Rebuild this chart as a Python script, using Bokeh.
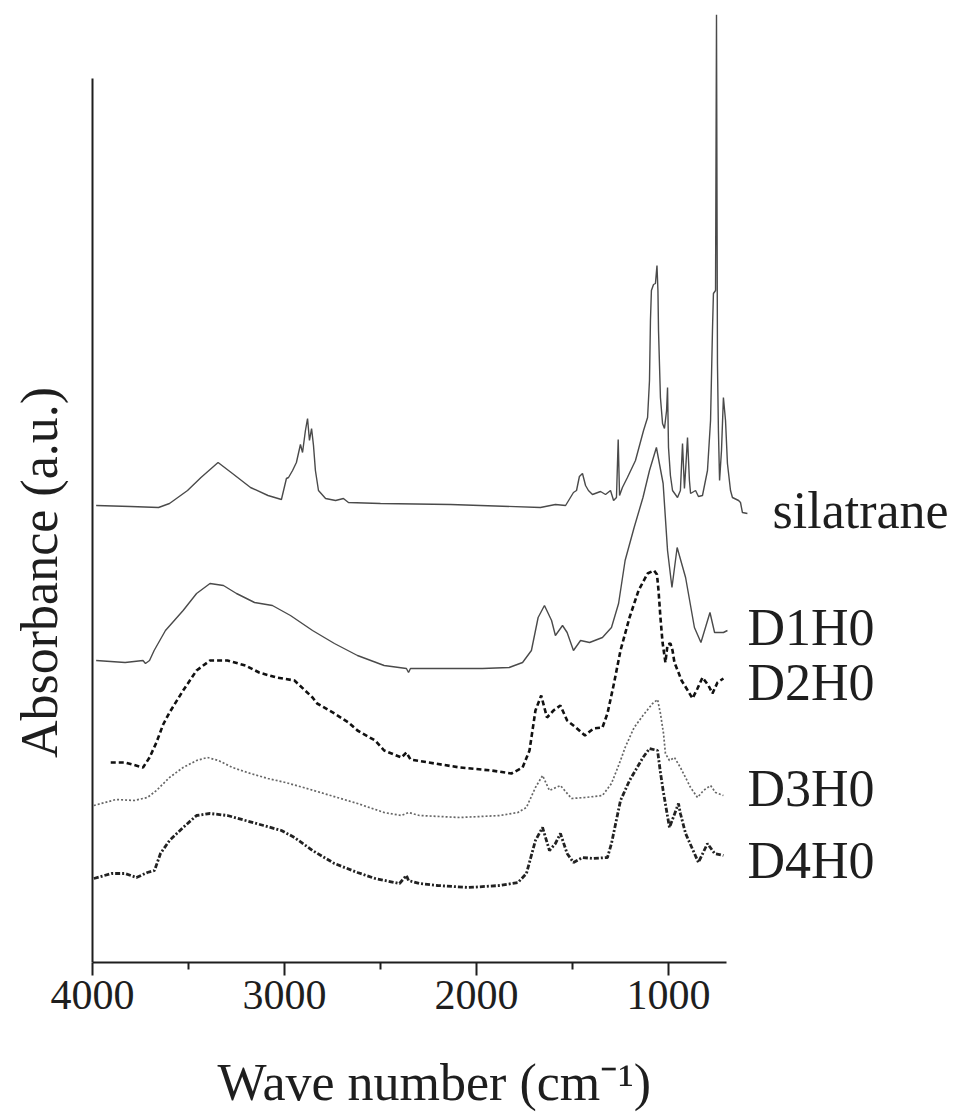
import math
from bokeh.plotting import figure
from bokeh.models import Range1d, FixedTicker, Label, Title
from bokeh.embed import file_html
from bokeh.resources import INLINE

# ---------------- data ----------------
silatrane_wn = [3981, 3802, 3656, 3599, 3505, 3435, 3346, 3271, 3177, 3086, 3016, 2990, 2979, 2958, 2938,
                2917, 2906, 2891, 2880, 2870, 2859, 2849, 2839, 2823, 2786, 2734, 2693, 2667, 2500, 2135,
                1667, 1589, 1536, 1495, 1479, 1464, 1448, 1432, 1417, 1396, 1354, 1328, 1302, 1286, 1271,
                1262, 1255, 1240, 1214, 1172, 1130, 1109, 1099, 1094, 1089, 1078, 1068, 1060, 1055, 1052,
                1042, 1031, 1021, 1010, 1005, 1000, 990, 979, 953, 938, 927, 917, 911, 901, 891,
                885, 859, 844, 823, 797, 781, 771, 766, 755, 750, 745, 740, 734, 724, 714,
                703, 693, 677, 667, 635, 625, 615, 589]
silatrane_abs = [457, 456, 455, 459, 472, 485, 500, 489, 475, 467, 463, 484, 485, 492, 500,
                 518, 510, 532, 544, 522, 534, 517, 492, 472, 464, 462, 464, 460, 459, 458,
                 455, 458, 457, 470, 472, 486, 489, 477, 472, 468, 471, 468, 472, 462, 465,
                 523, 467, 475, 485, 502, 532, 545, 582, 642, 672, 678, 679, 697, 672, 632,
                 565, 539, 534, 552, 575, 515, 487, 472, 465, 472, 519, 474, 492, 525, 482,
                 469, 472, 466, 467, 492, 542, 632, 669, 672, 948, 599, 532, 482, 512, 565,
                 542, 499, 472, 465, 462, 460, 450, 449]

d1h0_wn = [3981, 3830, 3737, 3724, 3703, 3679, 3620, 3528, 3458, 3388, 3318, 3250, 3156, 3063, 2969,
           2854, 2740, 2620, 2481, 2365, 2354, 2344, 2203, 1969, 1830, 1760, 1714, 1679, 1646, 1609,
           1589, 1552, 1528, 1495, 1458, 1411, 1344, 1297, 1260, 1226, 1179, 1133, 1099, 1063, 1028,
           1005, 982, 955, 911, 865, 831, 784, 760, 714, 693]
d1h0_abs = [302, 300, 302, 299, 302, 312, 332, 352, 369, 379, 377, 369, 360, 357, 347,
            332, 319, 307, 297, 294, 290, 294, 294, 294, 295, 300, 312, 345, 357, 342,
            327, 337, 330, 312, 322, 320, 325, 335, 359, 402, 435, 465, 492, 515, 479,
            412, 375, 415, 385, 335, 320, 350, 330, 330, 332]

d2h0_wn = [3905, 3830, 3737, 3703, 3667, 3632, 3599, 3528, 3458, 3388, 3297, 3203, 3132, 3042, 2948,
           2854, 2830, 2740, 2667, 2620, 2528, 2481, 2391, 2365, 2344, 2250, 2086, 1923, 1818, 1760,
           1724, 1703, 1693, 1663, 1633, 1599, 1563, 1528, 1482, 1435, 1391, 1344, 1318, 1284, 1250,
           1203, 1156, 1109, 1075, 1060, 1052, 1042, 1031, 1016, 1005, 990, 979, 969, 948, 932,
           906, 875, 849, 823, 792, 771, 745, 714]
d2h0_abs = [200, 200, 195, 205, 220, 238, 250, 272, 292, 302, 302, 297, 290, 285, 282,
            265, 259, 249, 240, 232, 222, 212, 205, 210, 203, 200, 195, 192, 189, 195,
            212, 239, 252, 267, 245, 252, 257, 242, 235, 227, 234, 235, 249, 279, 312,
            345, 372, 389, 392, 388, 372, 345, 320, 300, 318, 319, 312, 300, 290, 282,
            274, 264, 274, 285, 277, 269, 280, 284]

d3h0_wn = [3993, 3877, 3783, 3714, 3667, 3599, 3528, 3458, 3401, 3344, 3271, 3177, 3086, 2995, 2901,
           2760, 2620, 2481, 2391, 2354, 2297, 2086, 1877, 1784, 1740, 1693, 1656, 1620, 1563, 1505,
           1435, 1344, 1297, 1250, 1226, 1179, 1133, 1083, 1057, 1042, 1026, 1016, 995, 969, 938,
           922, 885, 849, 818, 781, 755, 714]
d3h0_abs = [157, 163, 162, 165, 172, 185, 195, 202, 205, 202, 195, 189, 184, 180, 175,
            167, 159, 150, 147, 150, 147, 145, 147, 150, 155, 175, 187, 172, 177, 164,
            165, 167, 179, 202, 215, 235, 247, 259, 263, 249, 229, 209, 202, 205, 195,
            189, 175, 165, 172, 177, 170, 167]

d4h0_wn = [3993, 3901, 3830, 3771, 3714, 3677, 3646, 3599, 3528, 3458, 3388, 3297, 3203, 3109, 3016,
           2948, 2854, 2740, 2620, 2528, 2401, 2365, 2354, 2297, 2203, 2042, 1877, 1784, 1740, 1693,
           1656, 1620, 1589, 1563, 1528, 1495, 1448, 1391, 1318, 1297, 1250, 1203, 1133, 1099, 1057,
           1042, 1028, 995, 948, 938, 911, 844, 797, 760, 714]
d4h0_abs = [84, 89, 89, 85, 90, 92, 109, 122, 135, 147, 149, 147, 142, 137, 132,
            125, 112, 99, 90, 84, 79, 87, 82, 79, 77, 75, 77, 80, 89, 122,
            135, 112, 119, 129, 109, 100, 105, 104, 105, 119, 162, 182, 205, 214, 212,
            190, 172, 135, 159, 149, 129, 100, 119, 109, 107]

series_names = ["silatrane", "D1H0", "D2H0", "D3H0", "D4H0"]
x_ticks = [4000, 3000, 2000, 1000]
x_minor_ticks = [3500, 2500, 1500]

# ---------------- layout constants ----------------
FONT = "Liberation Serif"
INK = "#1e1e1e"
PX_PER_WN = 0.192          # pixels per cm^-1
FRAME_W, FRAME_H = 955, 948
AXIS_LEFT_PX = 92          # position of 4000 cm-1 inside the frame
X_START = 4000 + AXIS_LEFT_PX / PX_PER_WN
X_END = X_START - FRAME_W / PX_PER_WN
AXIS_END_WN = 700
Y_AXIS_TOP = 884

p = figure(frame_width=FRAME_W, frame_height=FRAME_H,
           x_range=Range1d(X_START, X_END), y_range=Range1d(0, FRAME_H),
           y_axis_location=None, output_backend="svg", toolbar_location=None,
           min_border_left=0, min_border_right=0, min_border_top=14, min_border_bottom=0)
p.outline_line_color = None
p.xgrid.visible = False
p.ygrid.visible = False
p.background_fill_color = "white"

ax = p.xaxis[0]
ax.bounds = (AXIS_END_WN, 4000)
ax.ticker = FixedTicker(ticks=x_ticks, minor_ticks=x_minor_ticks)
ax.axis_line_width = 2
ax.axis_line_color = INK
ax.major_tick_in = 0
ax.major_tick_out = 13
ax.major_tick_line_width = 2
ax.major_tick_line_color = INK
ax.minor_tick_in = 0
ax.minor_tick_out = 7
ax.minor_tick_line_width = 2
ax.minor_tick_line_color = INK
ax.major_label_text_font = FONT
ax.major_label_text_font_size = "42px"
ax.major_label_text_color = INK
ax.major_label_standoff = 5

# x axis title, below the axis, starting under the left part of the axis as in the original
p.add_layout(Title(text="Wave number (cm\u207B\u00B9)", align="left", offset=217,
                   text_font=FONT, text_font_size="52px", text_font_style="normal",
                   text_color=INK, standoff=80), "below")

# left axis line (shorter than the frame, as in the original)
p.segment(x0=[4000], y0=[0], x1=[4000], y1=[Y_AXIS_TOP], line_width=2, line_color=INK)

# spectra
p.line(silatrane_wn, silatrane_abs, line_color="#4a4a4a", line_width=1.4)
p.line(d1h0_wn, d1h0_abs, line_color="#4a4a4a", line_width=1.4)
p.line(d2h0_wn, d2h0_abs, line_color="#111111", line_width=2.6, line_dash="5 3")
p.line(d3h0_wn, d3h0_abs, line_color="#666666", line_width=1.7, line_dash="2 2")
p.line(d4h0_wn, d4h0_abs, line_color="#222222", line_width=2.8, line_dash="5 2 2 2")

# series labels
label_x = [458, 589, 589, 589, 589]
label_y = [452, 335, 280, 174, 102]
for name, lx, ly in zip(series_names, label_x, label_y):
    p.add_layout(Label(x=lx, y=ly, text=name, text_font=FONT, text_font_size="52px",
                       text_color=INK, text_align="left", text_baseline="alphabetic"))

# y axis title
p.add_layout(Label(x=4278, y=390, text="Absorbance (a.u.)", angle=math.pi / 2,
                   text_font=FONT, text_font_size="52px", text_color=INK,
                   text_align="center", text_baseline="middle"))

open("out.html", "w").write(file_html(p, INLINE))
